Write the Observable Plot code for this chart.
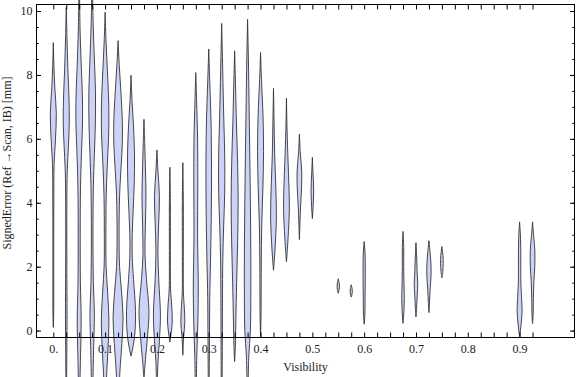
<!DOCTYPE html>
<html>
<head>
<meta charset="utf-8">
<script src="https://cdn.jsdelivr.net/npm/d3@7"></script>
<script src="https://cdn.jsdelivr.net/npm/@observablehq/plot@0.6"></script>
<style>
  html, body { margin: 0; padding: 0; background: white; }
</style>
</head>
<body>
<script>
// Visibility categories that carry a violin
const visibility = [0, 0.025, 0.05, 0.075, 0.1, 0.125, 0.15, 0.175, 0.2, 0.225, 0.25, 0.275, 0.3, 0.325, 0.35, 0.375,
  0.4, 0.425, 0.45, 0.475, 0.5, 0.55, 0.575, 0.6, 0.675, 0.7, 0.725, 0.75, 0.9, 0.925];

// Each violin profile: [signed error (mm), relative density]
const p000 = [[9.0,0],[8.3,0.6],[7.6,1.5],[6.8,3],[6.0,2.2],[5.2,0.8],[4.0,0.5],[2,0.4],[0.6,0.4],[0.1,0]];
const p025 = [[10.1,0],[9.2,0.7],[8.2,1.6],[7.2,2.8],[6.5,3],[5.8,2.2],[5.0,1],[4,0.6],[2,0.6],[0.5,0.8],[-0.5,0.6],[-1.8,0.3]];
const p050 = [[10.8,0.3],[9.5,0.8],[8.5,1.8],[7.3,3.2],[6.5,3.3],[5.5,2.2],[4.5,1.3],[3,1],[1.5,1.2],[0.3,2],[-0.7,1.4],[-1.8,0.6]];
const p075 = [[10.8,0.3],[9.6,1],[8.5,2.2],[7.5,3.3],[6.5,3.2],[5.5,2.2],[4.5,1.2],[3,0.8],[1.5,1.2],[0.5,2.2],[-0.5,1.5],[-1.8,0.6]];
const p100 = [[9.95,0],[9.0,1],[8.0,2.5],[7.0,3.7],[6.2,3.6],[5.2,2.2],[4.2,1.1],[3,0.8],[2,1],[1.2,2.5],[0.3,3.8],[-0.5,3],[-1.2,1.8],[-1.8,1]];
const p125 = [[9.06,0],[8.3,1.2],[7.5,2.8],[6.5,4.3],[5.8,4.2],[5.0,2.8],[4.2,1.5],[3,1],[2,1.5],[1.2,3.5],[0.4,5],[-0.4,3.8],[-1.1,2.2],[-1.8,1]];
const p150 = [[7.98,0],[7.2,1],[6.4,2.5],[5.5,3.5],[4.6,3.2],[3.8,2.2],[3,1.2],[2.3,1.2],[1.6,2.5],[0.6,4.5],[-0.2,3.5],[-0.8,0]];
const p175 = [[6.6,0],[5.8,0.8],[5.0,1.5],[4.2,2],[3.3,1.4],[2.4,1],[1.6,2.5],[0.6,5],[-0.2,3.5],[-0.9,1.5],[-1.5,0]];
const p200 = [[5.64,0],[5.0,1],[4.2,2.5],[3.4,1.8],[2.5,1],[1.6,1.8],[0.5,3.5],[-0.3,2.5],[-1,1],[-1.8,0.4]];
const p225 = [[5.1,0],[4,0.5],[2.5,0.5],[1.3,0.7],[0.8,1.8],[0.3,2.4],[-0.1,1.2],[-0.36,0]];
const p250 = [[5.24,0],[4,0.5],[2.5,0.5],[1.2,0.6],[0.7,1.5],[0.25,2],[-0.2,0.8],[-0.77,0]];
const p275 = [[8.06,0],[7.2,0.8],[6.0,1.8],[4.5,2],[3,1.8],[1.3,2.5],[0.2,2],[-0.8,1],[-1.8,0.5]];
const p300 = [[8.8,0],[7.8,1],[6.5,2.3],[5,2.8],[3.5,2.5],[2.2,1.8],[1,1],[0,0.8],[-1,0.6],[-1.8,0.4]];
const p325 = [[9.6,0],[8.5,0.8],[7,1.8],[5.5,3],[4.3,3],[3.3,2],[2.2,1.1],[1,0.8],[0,0.7],[-1.8,0.4]];
const p350 = [[8.74,0],[7.8,0.8],[6.5,1.8],[5.2,3],[4,3.5],[2.8,3],[1.5,2],[0.3,1.2],[-0.5,0.7],[-0.97,0]];
const p375 = [[9.73,0],[8.5,0.8],[7,1.5],[5.5,2.2],[4,2.8],[2.5,3.2],[1,3.2],[0,2.8],[-0.8,1.2],[-1.8,0.5]];
const p400 = [[8.69,0],[7.8,1],[6.7,2.5],[5.6,3],[4.5,2.4],[3.3,1.2],[2,0.7],[0.5,0.5],[-0.19,0]];
const p425 = [[7.57,0],[6.5,0.6],[5.5,1.2],[4.5,2.3],[3.6,2.9],[2.8,2],[2.2,0.8],[1.89,0]];
const p450 = [[7.26,0],[6.3,0.6],[5.3,1.6],[4.5,2.5],[3.8,2.9],[3.1,2],[2.5,0.8],[2.15,0]];
const p475 = [[6.14,0],[5.6,0.8],[5.0,2.3],[4.5,2.2],[3.9,1.2],[3.3,0.5],[2.85,0]];
const p500 = [[5.41,0],[4.9,0.7],[4.4,1.3],[3.9,0.8],[3.5,0]];
const p550 = [[1.61,0],[1.5,0.9],[1.39,1.2],[1.28,0.9],[1.17,0]];
const p575 = [[1.42,0],[1.32,0.9],[1.22,1.1],[1.12,0.7],[1.05,0]];
const p600 = [[2.78,0],[2.4,0.9],[1.8,1.1],[1.0,0.9],[0.5,0.7],[0.2,0]];
const p675 = [[3.09,0],[2.6,0.7],[2,0.7],[1.4,1],[1.0,1.3],[0.6,0.9],[0.23,0]];
const p700 = [[2.74,0],[2.3,0.7],[1.8,1.2],[1.45,1.8],[1.1,1.2],[0.7,0.6],[0.43,0]];
const p725 = [[2.8,0],[2.5,1],[2.1,2],[1.7,2.1],[1.3,1.2],[0.9,0.6],[0.56,0]];
const p750 = [[2.62,0],[2.35,1.1],[2.1,1.3],[1.85,0.9],[1.65,0]];
const p900 = [[3.39,0],[3,0.8],[2.3,1.2],[1.6,1.2],[1.0,2],[0.6,2.5],[0.2,1.5],[-0.19,0]];
const p925 = [[3.39,0],[3.0,1],[2.5,2.3],[2.0,2.2],[1.5,1.3],[1.0,0.8],[0.5,0.6],[0.22,0]];

const profiles = [p000,p025,p050,p075,p100,p125,p150,p175,p200,p225,p250,p275,p300,p325,p350,p375,
  p400,p425,p450,p475,p500,p550,p575,p600,p675,p700,p725,p750,p900,p925];

// Axis ticks and labels
const xTicks = [0,0.025,0.05,0.075,0.1,0.125,0.15,0.175,0.2,0.225,0.25,0.275,0.3,0.325,0.35,0.375,0.4,0.425,
  0.45,0.475,0.5,0.525,0.55,0.575,0.6,0.625,0.65,0.675,0.7,0.725,0.75,0.775,0.8,0.825,0.85,0.875,0.9,0.925];
const xLabelTicks = [0,0.1,0.2,0.3,0.4,0.5,0.6,0.7,0.8,0.9];
const xTickLabels = ["0.","0.1","0.2","0.3","0.4","0.5","0.6","0.7","0.8","0.9"];
const yMajor = [0,2,4,6,8,10];
const yTickLabels = ["0","2","4","6","8","10"];
const yMinor = [0,0.5,1,1.5,2,2.5,3,3.5,4,4.5,5,5.5,6,6.5,7,7.5,8,8.5,9,9.5,10];
const xTitle = "Visibility";
const yTitle = "SignedError (Ref \u2192Scan, IB) [mm]";

const xDomain = [-0.0334, 1.005];
const yDomain = [-0.2, 10.22];
const W = 576, H = 377, mL = 36, mR = 2, mT = 4, mB = 40;
const densityToX = (xDomain[1] - xDomain[0]) / (W - mL - mR); // one density unit = one pixel

const rows = visibility.flatMap((pos, i) => profiles[i].map(([v, w]) => ({pos, v, w})));

const chart = Plot.plot({
  width: W, height: H,
  marginLeft: mL, marginRight: mR, marginTop: mT, marginBottom: mB,
  x: {domain: xDomain, label: null},
  y: {domain: yDomain, label: null},
  style: {fontFamily: "'Liberation Serif', 'Times New Roman', serif", fontSize: "12px", background: "white", color: "#222"},
  marks: [
    Plot.areaX(rows, {
      y: "v",
      x1: d => d.pos - d.w * densityToX,
      x2: d => d.pos + d.w * densityToX,
      z: "pos",
      fill: "#ccd3f7",
      stroke: "#2a2a2a",
      strokeWidth: 1,
      strokeOpacity: 0.85,
      curve: "catmull-rom"
    }),
    Plot.axisY({ticks: yMajor, tickSize: 0, tickPadding: 4, tickFormat: (d, i) => yTickLabels[i], fill: "#222"}),
    Plot.axisY({ticks: yMajor, tickSize: 5, dx: 5, tickFormat: () => "", stroke: "#000"}),
    Plot.axisY({ticks: yMinor, tickSize: 2.7, dx: 2.7, tickFormat: () => "", stroke: "#000"}),
    Plot.axisY({anchor: "right", ticks: yMajor, tickSize: 5, dx: -5, tickFormat: () => "", stroke: "#000"}),
    Plot.axisY({anchor: "right", ticks: yMinor, tickSize: 2.7, dx: -2.7, tickFormat: () => "", stroke: "#000"}),
    Plot.axisX({ticks: xLabelTicks, tickSize: 0, tickPadding: 7, tickFormat: (d, i) => xTickLabels[i], fill: "#222"}),
    Plot.axisX({ticks: xTicks, tickSize: 4.5, dy: -4.5, tickFormat: () => "", stroke: "#000"}),
    Plot.axisX({anchor: "top", ticks: xTicks, tickSize: 4.5, dy: 4.5, tickFormat: () => "", stroke: "#000"}),
    Plot.text([xTitle], {text: d => d, frameAnchor: "bottom", dy: 30, lineAnchor: "middle", textAnchor: "middle", fill: "#222"}),
    Plot.text([yTitle], {text: d => d, frameAnchor: "left", dx: -29, dy: -8, rotate: -90, lineAnchor: "middle", textAnchor: "middle", fill: "#222"}),
    Plot.frame({stroke: "#000", strokeWidth: 1})
  ]
});
document.body.appendChild(chart);
</script>
</body>
</html>
